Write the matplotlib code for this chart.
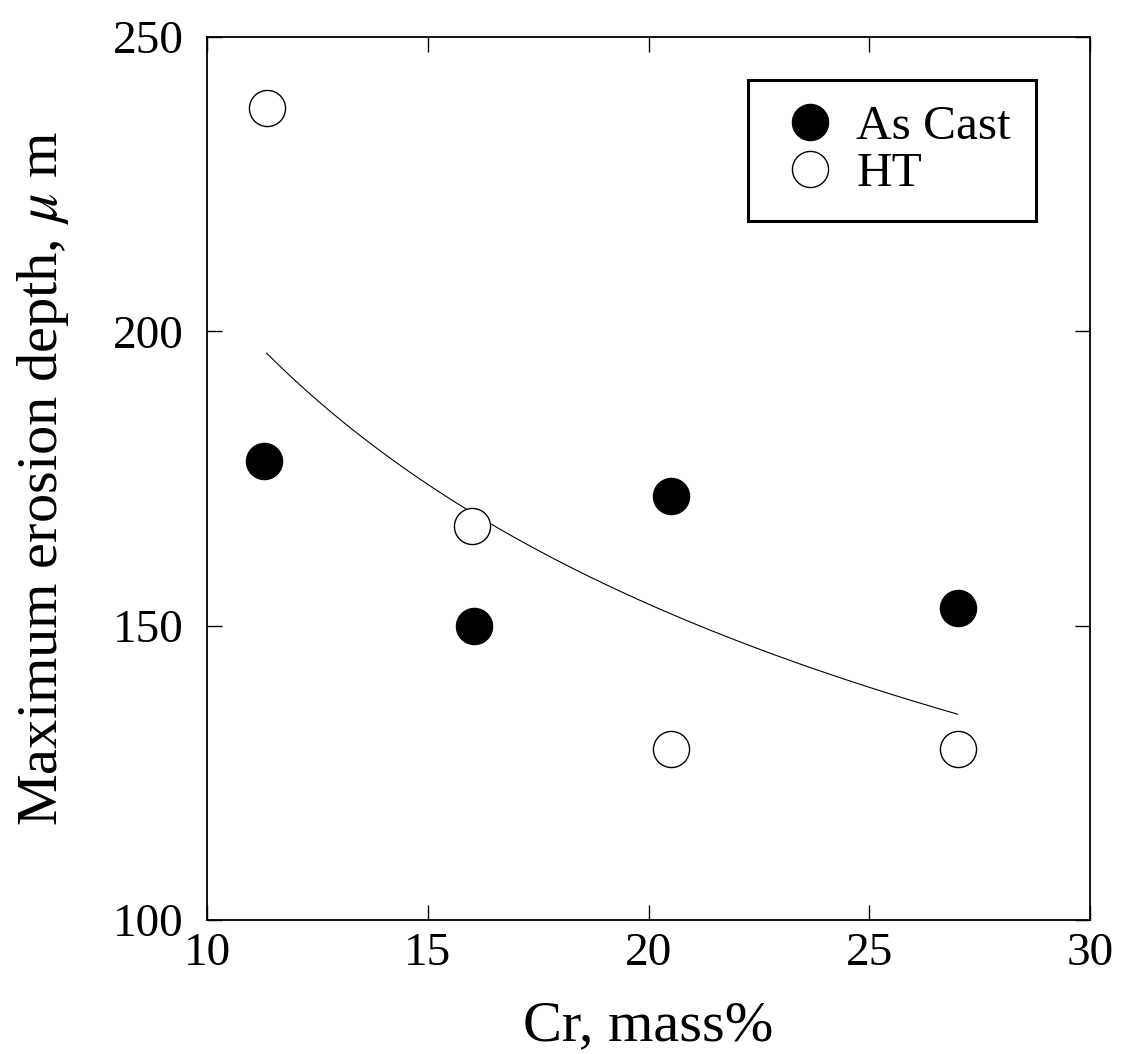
import numpy as np
import matplotlib
matplotlib.use("Agg")
import matplotlib.pyplot as plt

plt.rcParams["font.family"] = ["Liberation Serif", "DejaVu Serif"]
plt.rcParams["mathtext.fontset"] = "stix"

# Cr content (mass%) and maximum erosion depth (um)
cr_as_cast = [11.3, 16.05, 20.5, 27.0]
depth_as_cast = [178, 150, 172, 153]
cr_ht = [11.35, 16.0, 20.5, 27.0]
depth_ht = [238, 167, 129, 129]

x_ticks = [10, 15, 20, 25, 30]
y_ticks = [100, 150, 200, 250]

# power-law trend fitted to both conditions together
x_all = np.array(cr_as_cast + cr_ht, dtype=float)
y_all = np.array(depth_as_cast + depth_ht, dtype=float)
b, ln_a = np.polyfit(np.log(x_all), np.log(y_all), 1)
x_fit = np.linspace(min(cr_ht), max(cr_ht), 200)
y_fit = np.exp(ln_a) * x_fit ** b

W, H = 1124, 1054
fig = plt.figure(figsize=(W / 100, H / 100), dpi=100)
ax = fig.add_axes([207 / W, 1 - 920 / H, (1090 - 207) / W, (920 - 37) / H])

ax.plot(x_fit, y_fit, color="black", lw=0.8, zorder=2)
ax.plot(cr_as_cast, depth_as_cast, "o", ls="none", ms=26, mfc="black", mec="black",
        mew=1.0, label="As Cast", zorder=3)
ax.plot(cr_ht, depth_ht, "o", ls="none", ms=26, mfc="white", mec="black",
        mew=1.0, label="HT", zorder=3)

ax.set_xlim(10, 30)
ax.set_ylim(100, 250)
ax.set_xticks(x_ticks)
ax.set_yticks(y_ticks)
ax.tick_params(direction="in", length=11, width=1.0, labelsize=34,
               top=True, right=True)
ax.tick_params(axis="x", pad=9)
ax.tick_params(axis="y", pad=17)
for s in ax.spines.values():
    s.set_linewidth(1.3)

ax.set_xlabel("Cr, mass%", fontsize=42, labelpad=18)
ax.set_ylabel(r"Maximum erosion depth, $\mu$ m", fontsize=42, labelpad=30)

leg = ax.legend(loc="upper left", bbox_to_anchor=(748 / W, 1 - 80 / H),
                bbox_transform=fig.transFigure, fontsize=35.5,
                frameon=True, fancybox=False, framealpha=1.0,
                handletextpad=0.2, borderpad=0.5, borderaxespad=0.0,
                labelspacing=0.05, handlelength=1.5)
leg.get_frame().set_edgecolor("black")
leg.get_frame().set_linewidth(2.2)

fig.savefig("out.png", dpi=100)
